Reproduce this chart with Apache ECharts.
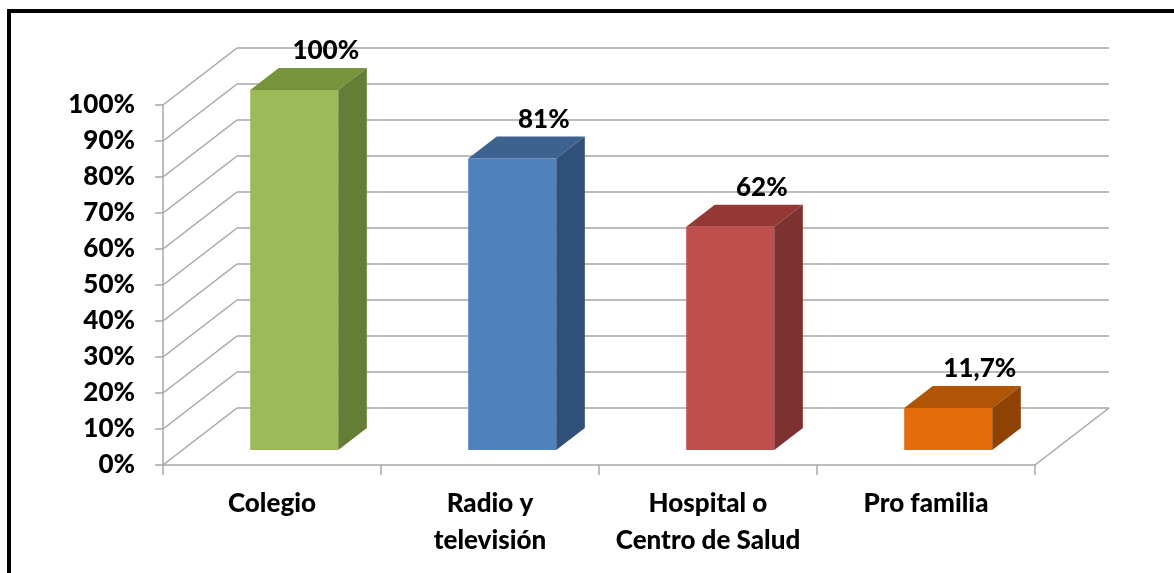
<!DOCTYPE html>
<html>
<head>
<meta charset="utf-8">
<script src="https://cdn.jsdelivr.net/npm/echarts@6/dist/echarts.min.js"></script>
<style>
html,body{margin:0;padding:0;background:#fff;}
#c{width:1174px;height:573px;}
</style>
</head>
<body>
<div id="c"></div>
<script>
var categories = ['Colegio', 'Radio y\ntelevisión', 'Hospital o\nCentro de Salud', 'Pro familia'];
var values = [100, 81, 62, 11.7];
var valueLabels = ['100%', '81%', '62%', '11,7%'];
var yTicks = [0, 10, 20, 30, 40, 50, 60, 70, 80, 90, 100];

var faceColors = [
  {front: '#9BBB59', top: '#77933C', side: '#657E36'},
  {front: '#4F81BD', top: '#3C628F', side: '#2F5078'},
  {front: '#C0504D', top: '#943735', side: '#7D3130'},
  {front: '#E46C0A', top: '#B05405', side: '#8E4305'}
];

var DX = 74, DY = 57;          // floor depth vector
var FRONT = 0.263, DEPTH = 0.386; // bar position in depth
var FONT = 'Lato';
var WEIGHT = 900;
var GRID_COLOR = '#A6A6A6';

var chart = echarts.init(document.getElementById('c'));

function wallItem(params, api) {
  var v = api.value(1);
  var cs = params.coordSys;
  var y = api.coord([0, v])[1];
  var x0 = cs.x, x1 = cs.x + cs.width;
  var st = {stroke: GRID_COLOR, lineWidth: 1.5, fill: null};
  var ch = [
    {type: 'line', shape: {x1: x0, y1: y, x2: x0 + DX, y2: y - DY}, style: st},
    {type: 'line', shape: {x1: x0 + DX, y1: y - DY, x2: x1 + DX, y2: y - DY}, style: st}
  ];
  if (v === 0) {
    ch.push({type: 'line', shape: {x1: x1, y1: y, x2: x1 + DX, y2: y - DY}, style: st});
  }
  return {type: 'group', children: ch};
}

function barItem(params, api) {
  var idx = api.value(0), v = api.value(1);
  var c0 = api.coord([idx, 0]);
  var c1 = api.coord([idx, v]);
  var band = api.size([1, 0])[0];
  var fy = DY * FRONT;
  var ddx = DX * DEPTH, ddy = DY * DEPTH;
  var left = c0[0] - band * 0.1;
  var right = left + band * 0.404;
  var bottom = c0[1] - fy;
  var top = c1[1] - fy;
  var col = faceColors[idx];
  return {
    type: 'group',
    children: [
      {type: 'polygon', shape: {points: [[left, bottom], [left, top], [right, top], [right, bottom]]}, style: {fill: col.front}},
      {type: 'polygon', shape: {points: [[left, top], [left + ddx, top - ddy], [right + ddx, top - ddy], [right, top]]}, style: {fill: col.top}},
      {type: 'polygon', shape: {points: [[right, top], [right + ddx, top - ddy], [right + ddx, bottom - ddy], [right, bottom]]}, style: {fill: col.side}},
      {type: 'text', style: {text: valueLabels[idx], x: (left + right) / 2 + ddx + 3, y: top - ddy - 17,
        align: 'center', verticalAlign: 'middle', font: WEIGHT + ' 26px ' + FONT, fill: '#000'}}
    ]
  };
}

chart.setOption({
  animation: false,
  backgroundColor: '#fff',
  graphic: [{
    type: 'rect', shape: {x: 9, y: 11, width: 1300, height: 700},
    style: {fill: null, stroke: '#000', lineWidth: 4}, z: 100
  }],
  grid: {left: 163, right: 139, top: 105, bottom: 108},
  xAxis: {
    type: 'category',
    data: categories,
    boundaryGap: true,
    axisLine: {lineStyle: {color: GRID_COLOR, width: 1.5}},
    axisTick: {show: true, length: 10, lineStyle: {color: GRID_COLOR, width: 1.5}},
    axisLabel: {color: '#000', fontFamily: FONT, fontWeight: WEIGHT, fontSize: 26, lineHeight: 37, margin: 20, interval: 0},
    splitLine: {show: false}
  },
  yAxis: {
    type: 'value', min: 0, max: 100, interval: 10,
    axisLine: {show: true, lineStyle: {color: GRID_COLOR, width: 1.5}},
    axisTick: {show: true, length: 8, lineStyle: {color: GRID_COLOR, width: 1.5}},
    axisLabel: {color: '#000', fontFamily: FONT, fontWeight: WEIGHT, fontSize: 26, margin: 28, formatter: '{value}%'},
    splitLine: {show: false}
  },
  series: [
    {type: 'custom', renderItem: wallItem, data: yTicks.map(function (v) { return [0, v]; }), z: 1, silent: true},
    {type: 'custom', renderItem: barItem, data: values.map(function (v, i) { return [i, v]; }), z: 2, clip: false}
  ]
});
</script>
</body>
</html>
